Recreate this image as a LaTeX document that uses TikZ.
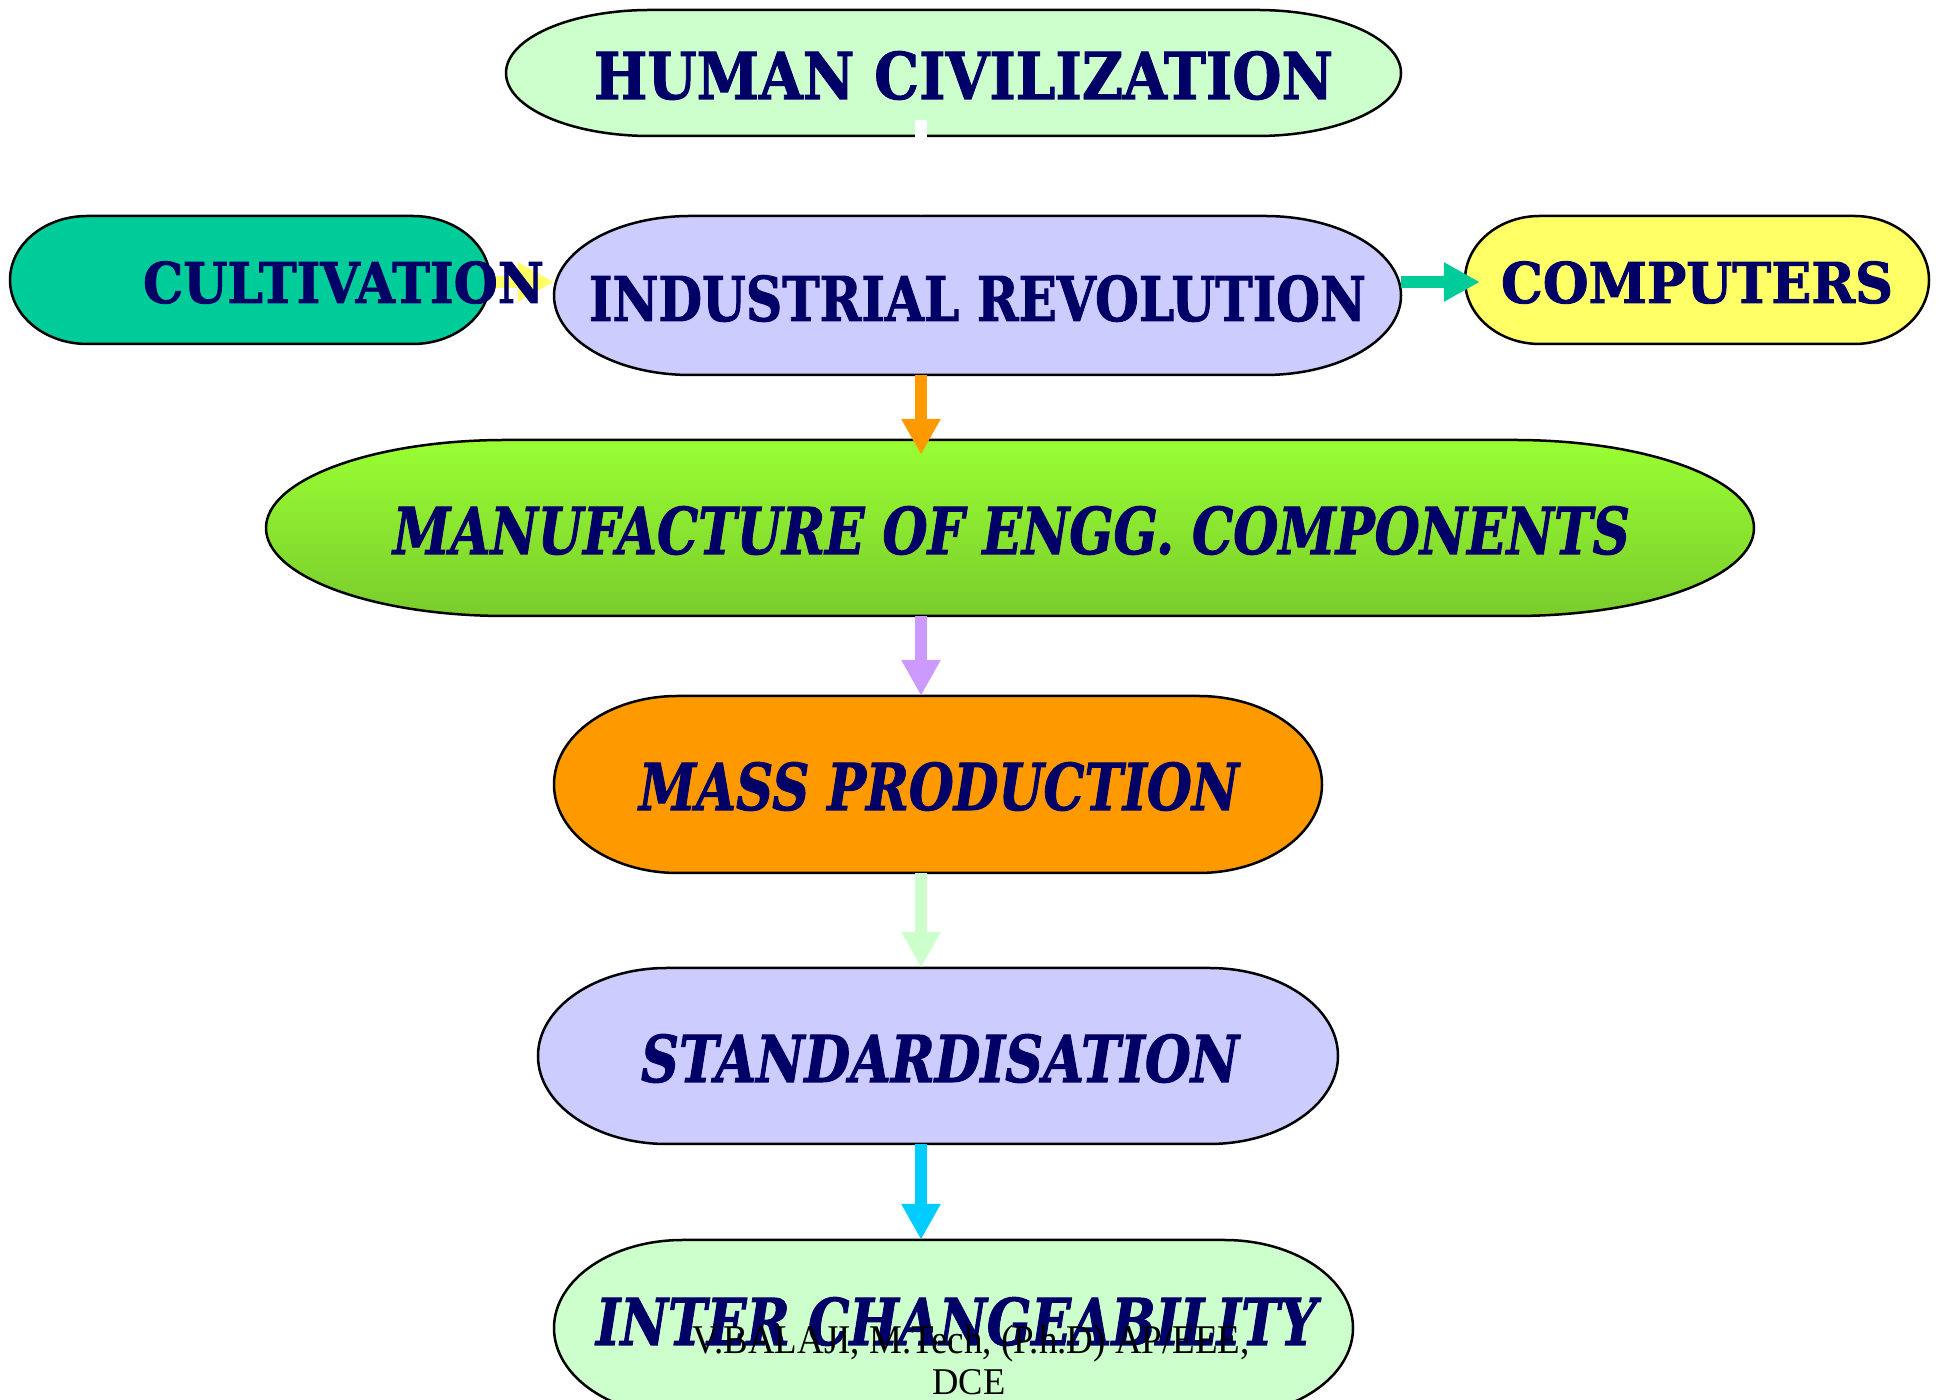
\documentclass[tikz,border=0pt]{standalone}
\usepackage{fontspec}
\usepackage{graphicx}
\usetikzlibrary{arrows.meta,calc}
\newfontfamily\hfont{DejaVu Serif}[BoldFeatures={FakeBold=1.6},BoldItalicFeatures={FakeBold=1.6}]
\newfontfamily\ffont{Liberation Serif}

\definecolor{navy}{HTML}{000066}
\definecolor{mint}{HTML}{CCFFCC}
\definecolor{teal}{HTML}{00CC99}
\definecolor{lilac}{HTML}{CCCCFF}
\definecolor{lemon}{HTML}{FFFF66}
\definecolor{limetop}{HTML}{99FF33}
\definecolor{limebot}{HTML}{7ACC2C}
\definecolor{amber}{HTML}{FF9900}
\definecolor{violet}{HTML}{CC99FF}
\definecolor{sky}{HTML}{00CCFF}

\tikzset{
  term/.style={draw=black,line width=2.5pt},
  box/.style={inner sep=0pt,draw=none},
  txt/.style={anchor=base,inner sep=0pt,text=navy,font=\hfont\bfseries},
  itxt/.style={txt,font=\hfont\bfseries\itshape},
  foot/.style={anchor=base,inner sep=0pt,text=black,font=\ffont},
  flow/.style={line width=12pt,-{Triangle[width=37pt,length=36pt]}},
}

% terminator shape: name, centre x, centre y, width, height, fill options
\newcommand\termnode[6]{%
  \pgfmathsetmacro\rx{0.161*#4}\pgfmathsetmacro\ry{#5/2}%
  \pgfmathsetmacro\xl{#2-#4/2+\rx}\pgfmathsetmacro\xr{#2+#4/2-\rx}%
  \pgfmathsetmacro\yt{#3+#5/2}\pgfmathsetmacro\yb{#3-#5/2}%
  \path[term,#6] (\xl,\yt) -- (\xr,\yt)
    arc[start angle=90,end angle=-90,x radius=\rx,y radius=\ry]
    -- (\xl,\yb)
    arc[start angle=270,end angle=90,x radius=\rx,y radius=\ry] -- cycle;
  \node[box,minimum width=#4pt,minimum height=#5pt] (#1) at (#2,#3) {};%
}
% text fitted to a given width: width, font size
\newcommand\fit[3]{\resizebox{#1pt}{\height}{\fontsize{#2}{#2}\selectfont #3}}

\begin{document}
\begin{tikzpicture}[x=1pt,y=1pt]
\useasboundingbox (0,0) rectangle (1939,1400);

% shapes
\termnode{hc}{953.5}{1327}{895}{126}{fill=mint}
\termnode{cult}{250}{1120}{480}{128}{fill=teal}
\termnode{ind}{977.5}{1104.5}{847}{159}{fill=lilac}
\termnode{comp}{1697}{1120}{464}{128}{fill=lemon}
\termnode{man}{1010}{872}{1488}{176}{top color=limetop,bottom color=limebot}
\termnode{mass}{938}{615.5}{768}{177}{fill=amber}
\termnode{std}{938}{344}{800}{176}{fill=lilac}
\termnode{inter}{953.5}{72}{799}{176}{fill=mint}

\coordinate (axis) at (921,0);

% connectors
\draw[flow,white] ([yshift=16pt]hc.south -| axis) -- (ind.north -| axis);
\draw[flow,lemon] (cult.east |- 0,1118) -- (ind.west |- 0,1118);
\draw[flow,teal] (ind.east |- 0,1118) -- ([xshift=15pt]comp.west |- 0,1118);
\draw[flow,amber] (ind.south -| axis) -- ([yshift=-15pt]man.north -| axis);
\draw[flow,violet] (man.south -| axis) -- (mass.north -| axis);
\draw[flow,mint] (mass.south -| axis) -- (std.north -| axis);
\draw[flow,sky] (std.south -| axis) -- (inter.north -| axis);

% labels
\node[txt] (hc-t) at (963.5,1301) {\fit{739}{64.5}{HUMAN CIVILIZATION}};
\node[txt] (cult-t) at (343.5,1097) {\fit{401}{56.2}{CULTIVATION}};
\node[txt] (ind-t) at (977.5,1079) {\fit{777}{61.7}{INDUSTRIAL REVOLUTION}};
\node[txt] (comp-t) at (1697,1097) {\fit{392}{56.2}{COMPUTERS}};
\node[itxt] (man-t) at (1011.5,846) {\fit{1237}{64.5}{MANUFACTURE OF ENGG. COMPONENTS}};
\node[itxt] (mass-t) at (939,590) {\fit{600}{64.5}{MASS PRODUCTION}};
\node[itxt] (std-t) at (940,318) {\fit{598}{64.5}{STANDARDISATION}};
\node[itxt] (inter-t) at (956.5,55) {\fit{721}{64.5}{INTER CHANGEABILITY}};

% footer
\node[foot] (f1) at (971,46) {\fit{557}{40.8}{V.BALAJI, M.Tech, (P.h.D) AP/EEE,}};
\node[foot] (f2) at (969,5) {\fit{73}{37.8}{DCE}};
\end{tikzpicture}
\end{document}
